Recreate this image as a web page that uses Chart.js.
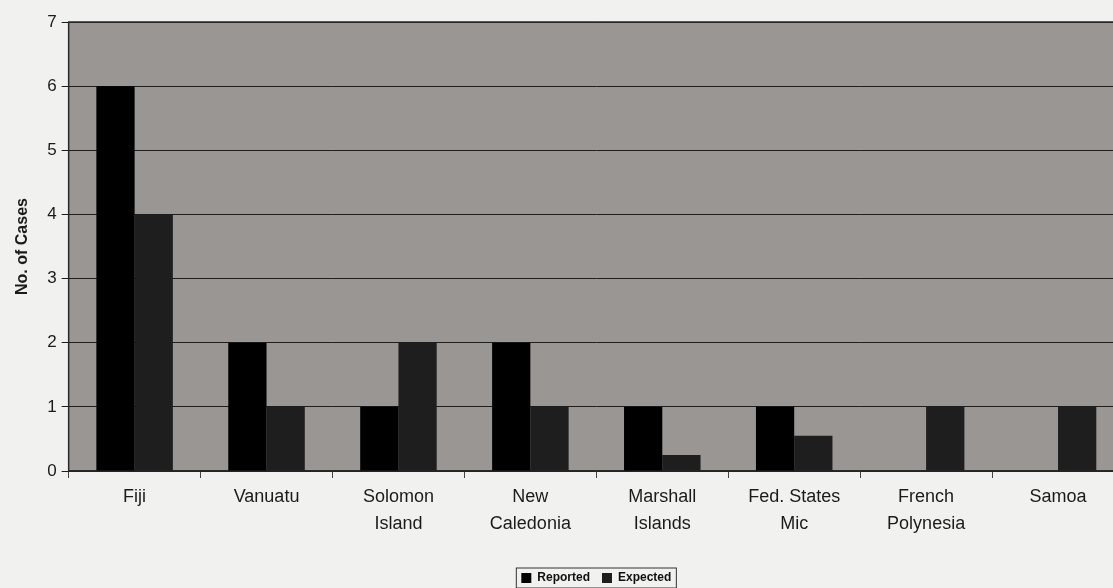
<!DOCTYPE html>
<html>
<head>
<meta charset="utf-8">
<script src="https://cdn.jsdelivr.net/npm/chart.js@4"></script>
<style>
  html, body { margin: 0; padding: 0; background: #f1f1ef; overflow: hidden; }
  #wrap { position: relative; width: 1128px; height: 600px; }
</style>
</head>
<body>
<div id="wrap"><canvas id="chart"></canvas></div>
<script>
// islands + cases
const islands  = [['Fiji'], ['Vanuatu'], ['Solomon', 'Island'], ['New', 'Caledonia'],
                  ['Marshall', 'Islands'], ['Fed. States', 'Mic'], ['French', 'Polynesia'], ['Samoa']];
const reported = [6, 2, 1, 2, 1, 1, 0, 0];
const expected = [4, 1, 2, 1, 0.25, 0.55, 1, 1];
const yTicks   = [0, 1, 2, 3, 4, 5, 6, 7];

const FONT = '"Liberation Sans", Arial, sans-serif';

// grey plot background + frame + legend box
const plotBg = {
  id: 'plotBg',
  beforeDraw(chart) {
    const { ctx, chartArea: a } = chart;
    ctx.save();
    ctx.fillStyle = '#9a9693';
    ctx.fillRect(a.left, a.top, a.right - a.left, a.bottom - a.top);
    ctx.restore();
  },
  afterDraw(chart) {
    const { ctx, chartArea: a } = chart;
    ctx.save();
    ctx.strokeStyle = '#2a2a2a';
    ctx.lineWidth = 1.5;
    ctx.beginPath();
    ctx.moveTo(a.left, a.bottom); ctx.lineTo(a.left, a.top); ctx.lineTo(a.right, a.top);
    ctx.stroke();
    const boxes = chart.legend.legendHitBoxes;
    if (boxes && boxes.length) {
      const l = Math.min(...boxes.map(b => b.left)) - 5;
      const r = Math.max(...boxes.map(b => b.left + b.width)) + 5;
      const t = Math.min(...boxes.map(b => b.top)) - 4;
      const bt = Math.max(...boxes.map(b => b.top + b.height)) + 4;
      ctx.lineWidth = 1;
      ctx.strokeStyle = '#333';
      ctx.strokeRect(l, t, r - l, bt - t);
    }
    ctx.restore();
  }
};

new Chart(document.getElementById('chart'), {
  type: 'bar',
  data: {
    labels: islands,
    datasets: [
      { label: 'Reported', data: reported, backgroundColor: '#000000', borderWidth: 0 },
      { label: 'Expected', data: expected, backgroundColor: '#1e1e1e', borderWidth: 0 },
    ]
  },
  options: {
    responsive: true, maintainAspectRatio: false, animation: false,
    layout: { padding: { top: 22, right: 4, left: 9, bottom: 6 } },
    datasets: { bar: { categoryPercentage: 0.58, barPercentage: 1.0 } },
    plugins: {
      legend: {
        position: 'bottom',
        fullSize: false,
        labels: { boxWidth: 10, boxHeight: 10, padding: 12, color: '#111', font: { family: FONT, size: 12, weight: 'bold' } }
      },
      tooltip: { enabled: false }
    },
    scales: {
      x: {
        afterFit(axis) { axis.height += 16; },
        grid: { drawOnChartArea: false, drawTicks: true, tickLength: 7, color: '#444', offset: true },
        border: { color: '#2a2a2a', width: 1.5 },
        ticks: { color: '#1b1b1b', font: { family: FONT, size: 18, lineHeight: 1.5 }, maxRotation: 0, autoSkip: false, padding: 6 }
      },
      y: {
        min: 0, max: 7,
        afterBuildTicks(axis) { axis.ticks = yTicks.map(v => ({ value: v })); },
        grid: { color: '#1e1e1e', lineWidth: 1, tickLength: 7 },
        border: { display: false },
        ticks: { color: '#1b1b1b', font: { family: FONT, size: 17 }, padding: 5 },
        title: { display: true, text: 'No. of Cases', color: '#1b1b1b', font: { family: FONT, size: 16, weight: 'bold' }, padding: { bottom: 10 } }
      }
    }
  },
  plugins: [plotBg]
});
</script>
</body>
</html>
